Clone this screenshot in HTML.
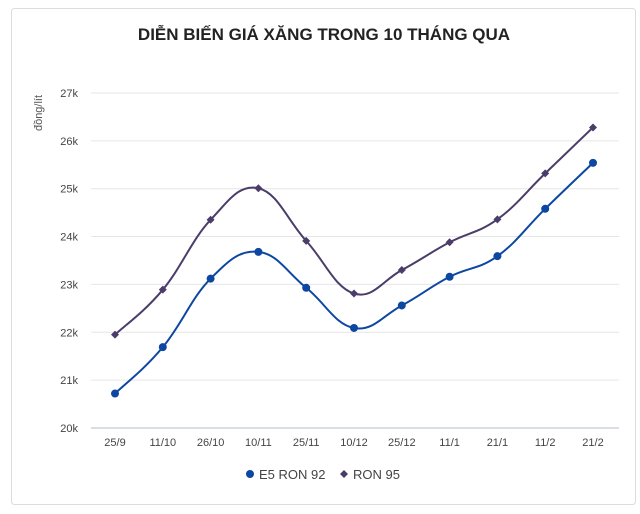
<!DOCTYPE html>
<html><head><meta charset="utf-8"><style>
body{margin:0;background:#fff;width:640px;height:509px;overflow:hidden;font-family:"Liberation Sans",sans-serif}
</style></head><body>
<svg id="s" width="640" height="509" xmlns="http://www.w3.org/2000/svg" font-family="Liberation Sans, sans-serif">
<rect x="11.5" y="8.5" width="624" height="496" rx="3" fill="#fff" stroke="#dcdcdc"/>
<text x="324" y="40" text-anchor="middle" font-size="17" font-weight="bold" fill="#222">DIỄN BIẾN GIÁ XĂNG TRONG 10 THÁNG QUA</text>
<text transform="translate(42,113) rotate(-90)" text-anchor="middle" font-size="11" fill="#555">đồng/lít</text>
<g id="grid"></g>
<g id="lines"></g>
<circle cx="250" cy="474" r="4" fill="#0d47a1"/>
<text x="259" y="479" font-size="13" fill="#444">E5 RON 92</text>
<path d="M344 470 L348 474 L344 478 L340 474Z" fill="#4b3d6a"/>
<text x="353" y="479" font-size="13" fill="#444">RON 95</text>
</svg>
<script>
var ns="http://www.w3.org/2000/svg",g=document.getElementById('grid'),L=document.getElementById('lines');
function y(v){return 428-(v-20)*47.86}
function el(t,a,p,txt){var e=document.createElementNS(ns,t);for(var k in a)e.setAttribute(k,a[k]);if(txt)e.textContent=txt;p.appendChild(e);return e}
for(var k=20;k<=27;k++){el('line',{x1:91,x2:619,y1:y(k),y2:y(k),stroke:k==20?'#ccd3dc':'#e6e6e6','stroke-width':k==20?1.5:1},g);
el('text',{x:78,y:y(k)+4,'text-anchor':'end','font-size':11,fill:'#444'},g,k+'k');}
var labs=['25/9','11/10','26/10','10/11','25/11','10/12','25/12','11/1','21/1','11/2','21/2'];
function x(i){return 115+i*47.8}
labs.forEach(function(l,i){el('text',{x:x(i),y:446,'text-anchor':'middle','font-size':11,fill:'#444'},g,l)});
var e5=[20.72,21.69,23.12,23.68,22.93,22.09,22.56,23.16,23.59,24.58,25.54];
var r95=[21.95,22.89,24.35,25.01,23.91,22.81,23.30,23.88,24.36,25.32,26.28];
function path(d){var P=d.map(function(v,i){return[x(i),y(v)]});var s='M'+P[0][0]+' '+P[0][1];
for(var i=0;i<P.length-1;i++){var p0=P[i-1]||P[i],p1=P[i],p2=P[i+1],p3=P[i+2]||P[i+1],t=0.2;
s+=' C'+(p1[0]+(p2[0]-p0[0])*t)+' '+(p1[1]+(p2[1]-p0[1])*t)+' '+(p2[0]-(p3[0]-p1[0])*t)+' '+(p2[1]-(p3[1]-p1[1])*t)+' '+p2[0]+' '+p2[1];}return s}
el('path',{d:path(r95),fill:'none',stroke:'#4b3d6a','stroke-width':2},L);
el('path',{d:path(e5),fill:'none',stroke:'#0d47a1','stroke-width':2},L);
r95.forEach(function(v,i){var X=x(i),Y=y(v);el('path',{d:'M'+X+' '+(Y-4)+'L'+(X+4)+' '+Y+'L'+X+' '+(Y+4)+'L'+(X-4)+' '+Y+'Z',fill:'#4b3d6a'},L)});
e5.forEach(function(v,i){el('circle',{cx:x(i),cy:y(v),r:4,fill:'#0d47a1'},L)});
</script>
</body></html>
